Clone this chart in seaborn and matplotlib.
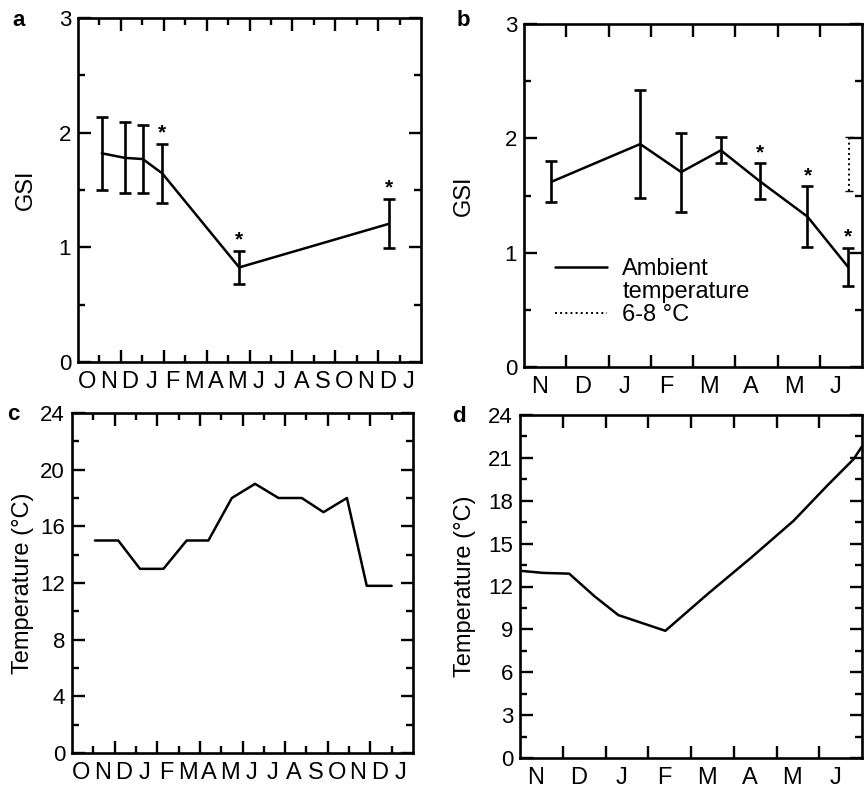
import matplotlib
matplotlib.use("Agg")
import matplotlib.pyplot as plt
from matplotlib.lines import Line2D
import seaborn as sns
import numpy as np
import pandas as pd

# panel a: GSI, Oct..Jan (16 months), ambient temperature
a_month = [1.11, 2.2, 3.02, 3.93, 7.52, 14.5]
a_gsi = [1.82, 1.78, 1.77, 1.645, 0.825, 1.205]
a_err = [0.32, 0.31, 0.30, 0.255, 0.145, 0.215]
a_star = [False, False, False, True, True, True]
a_labels = list("ONDJFMAMJJASONDJ")

# panel b: GSI, Nov..Jun (8 months)
b_month = [0.65, 2.75, 3.72, 4.66, 5.58, 6.71, 7.67]
b_gsi = [1.62, 1.95, 1.705, 1.895, 1.625, 1.315, 0.875]
b_err = [0.18, 0.47, 0.345, 0.115, 0.155, 0.265, 0.165]
b_star = [False, False, False, False, True, True, True]
b_cold_month = [7.69]
b_cold_gsi = [1.775]
b_cold_err = [0.24]
b_labels = list("NDJFMAMJ")

# panel c: water temperature, Oct..Jan
c_month = [1.08, 2.17, 3.19, 4.29, 5.38, 6.40, 7.5, 8.59, 9.69, 10.78, 11.80, 12.9, 13.83, 15.0]
c_temp = [15, 15, 13, 13, 15, 15, 18, 19, 18, 18, 17, 18, 11.8, 11.8]

# panel d: water temperature, Nov..Jun
d_month = [0.0, 0.55, 1.15, 1.75, 2.3, 3.4, 4.4, 5.4, 6.4, 7.2, 7.8, 8.0]
d_temp = [13.1, 12.95, 12.9, 11.3, 10.0, 8.9, 11.5, 14.0, 16.6, 19.1, 20.9, 21.8]

sns.set_theme(style="ticks")
plt.rcParams['font.family'] = ['Liberation Sans', 'DejaVu Sans']
plt.rcParams['axes.linewidth'] = 1.9
for key in ['text.color', 'axes.labelcolor', 'xtick.color', 'ytick.color', 'axes.edgecolor']:
    plt.rcParams[key] = 'black'

W, H = 864, 796
fig = plt.figure(figsize=(W / 100, H / 100), dpi=100)


def box(l, r, t, b):
    return fig.add_axes([l / W, (H - b) / H, (r - l) / W, (b - t) / H])


ax_a = box(78, 421, 18, 362)
ax_b = box(524, 862, 24, 367)
ax_c = box(72, 413, 413, 753)
ax_d = box(520, 862, 415, 758)


def style_axes(ax, nmonths, labels, lab_off, ymax, ystep, alt):
    ax.set_xlim(0, nmonths)
    ax.set_ylim(0, ymax)
    for s in ax.spines.values():
        s.set_visible(True)
        s.set_color('black')
    if alt:
        ax.set_xticks(np.arange(2, nmonths, 2))
        ax.set_xticks(np.arange(1, nmonths, 2), minor=True)
    else:
        ax.set_xticks(np.arange(1, nmonths))
    ax.set_xticklabels([])
    ax.set_yticks(np.arange(0, ymax + 0.01, ystep))
    ax.set_yticks(np.arange(ystep / 2, ymax, ystep), minor=True)
    ax.set_yticklabels([f"{v:g}" for v in np.arange(0, ymax + 0.01, ystep)])
    ax.tick_params(which='both', direction='in', top=True, right=True, color='black',
                   labelcolor='black', width=1.7)
    ax.tick_params(which='major', length=9, labelsize=16, pad=5)
    ax.tick_params(which='minor', length=5)
    for k, lab in enumerate(labels):
        ax.text(k + lab_off, -0.026, lab, transform=ax.get_xaxis_transform(),
                ha='center', va='top', fontsize=17, color='black')


def gsi_panel(ax, months, gsi, err, stars):
    df = pd.DataFrame({'month': months, 'gsi': gsi})
    sns.lineplot(data=df, x='month', y='gsi', ax=ax, color='black', lw=1.8,
                 label='Ambient')
    ax.errorbar(months, gsi, yerr=err, fmt='none', ecolor='black', elinewidth=1.9,
                capsize=4.5, capthick=1.9)
    for m, g, e, s in zip(months, gsi, err, stars):
        if s:
            ax.annotate('*', (m, g + e), xytext=(0, 1), textcoords='offset points',
                        ha='center', va='bottom', fontsize=15, fontweight='bold')


gsi_panel(ax_a, a_month, a_gsi, a_err, a_star)
style_axes(ax_a, 16, a_labels, 0.42, 3, 1, True)
ax_a.legend().remove()
ax_a.set_xlabel('')
ax_a.set_ylabel('GSI', fontsize=17)
ax_a.yaxis.set_label_coords(-0.121, 0.5)

gsi_panel(ax_b, b_month, b_gsi, b_err, b_star)
cold = ax_b.errorbar(b_cold_month, b_cold_gsi, yerr=b_cold_err, fmt='none', ecolor='black',
                     elinewidth=1.4, capsize=3, capthick=1.0, ls=':')
cold[2][0].set_linestyle(':')
style_axes(ax_b, 8, b_labels, 0.38, 3, 1, False)
ax_b.set_xlabel('')
ax_b.set_ylabel('GSI', fontsize=17)
ax_b.yaxis.set_label_coords(-0.146, 0.5)
handles = [Line2D([], [], color='black', lw=1.8),
           Line2D([], [], color='none'),
           Line2D([], [], color='black', lw=1.4, ls=':')]
ax_b.legend(handles, ['Ambient', 'temperature', '6-8 °C'], loc='upper left',
            bbox_to_anchor=(0.092, 0.318), frameon=False, fontsize=17,
            handlelength=2.2, handletextpad=0.65, labelspacing=0.05,
            borderpad=0, borderaxespad=0)

dfc = pd.DataFrame({'month': c_month, 'temp': c_temp})
sns.lineplot(data=dfc, x='month', y='temp', ax=ax_c, color='black', lw=1.8)
style_axes(ax_c, 16, a_labels, 0.42, 24, 4, True)
ax_c.set_xlabel('')
ax_c.set_ylabel('Temperature (°C)', fontsize=17)
ax_c.yaxis.set_label_coords(-0.111, 0.5)

dfd = pd.DataFrame({'month': d_month, 'temp': d_temp})
sns.lineplot(data=dfd, x='month', y='temp', ax=ax_d, color='black', lw=1.8)
style_axes(ax_d, 8, b_labels, 0.37, 24, 3, False)
ax_d.set_xlabel('')
ax_d.set_ylabel('Temperature (°C)', fontsize=17)
ax_d.yaxis.set_label_coords(-0.129, 0.5)

for x, y, t in [(19, 20, 'a'), (463, 20, 'b'), (13, 414, 'c'), (459, 416, 'd')]:
    fig.text(x / W, 1 - y / H, t, ha='center', va='center', fontsize=16, fontweight='bold')

fig.savefig('out.png', dpi=100)
